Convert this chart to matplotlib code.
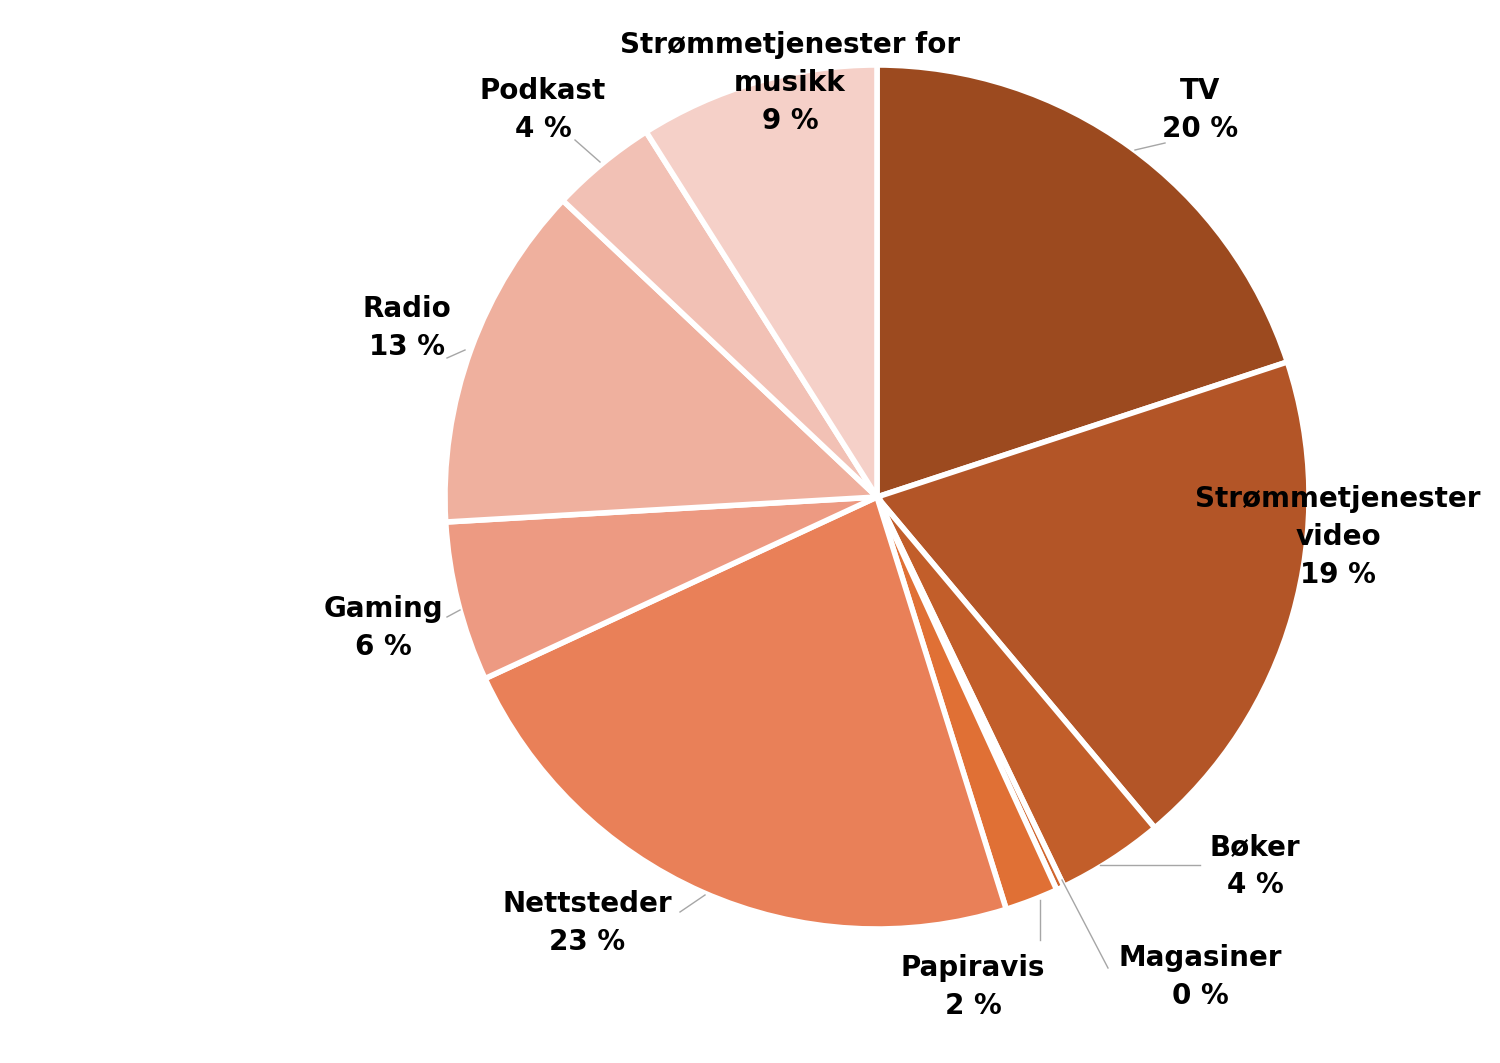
import matplotlib
matplotlib.use("Agg")
import matplotlib.pyplot as plt

categories = ["TV", "Strømmetjenester\nvideo", "Bøker", "Magasiner", "Papiravis",
              "Nettsteder", "Gaming", "Radio", "Podkast", "Strømmetjenester for\nmusikk"]
values = [20, 19, 4, 0.3, 2, 23, 6, 13, 4, 9]
pct_labels = ["20 %", "19 %", "4 %", "0 %", "2 %", "23 %", "6 %", "13 %", "4 %", "9 %"]
colors = ["#9C4A1F", "#B35527", "#C25E2A", "#D0652D", "#E07035", "#E98058",
          "#ED9A82", "#EFB09E", "#F2C1B5", "#F5D0C8"]

H = 1063
fig = plt.figure(figsize=(15, 10.63), dpi=100)
ax = fig.add_axes([0, 0, 1, 1])

ax.pie(values, colors=colors, startangle=90, counterclock=False,
       center=(877, H - 497), radius=432, explode=[0.012] * len(values),
       wedgeprops=dict(edgecolor="white", linewidth=4))
ax.set_xlim(0, 1500); ax.set_ylim(0, H); ax.set_aspect("equal"); ax.axis("off")

label_pos = [(1200, 110), (1338, 537), (1255, 866), (1200, 977), (973, 987),
             (587, 923), (383, 628), (407, 328), (543, 110), (790, 83)]
leaders = [[(1165, 143), (1135, 150)], None, [(1200, 865), (1100, 865)],
           [(1108, 968), (1062, 880)], [(1040, 940), (1040, 900)],
           [(680, 912), (705, 895)], [(447, 617), (460, 610)],
           [(447, 358), (465, 350)], [(575, 140), (600, 162)], None]

for cat, p, (x, y), ld in zip(categories, pct_labels, label_pos, leaders):
    ax.text(x, H - y, cat + "\n" + p, ha="center", va="center", fontsize=20,
            fontweight="bold", color="black", linespacing=1.45)
    if ld:
        ax.plot([ld[0][0], ld[1][0]], [H - ld[0][1], H - ld[1][1]], color="#A6A6A6", lw=1)

fig.savefig("out.png", dpi=100, facecolor="white")
